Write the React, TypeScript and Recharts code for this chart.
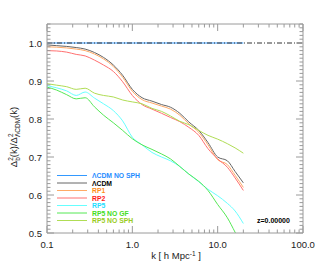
import { LineChart, Line, XAxis, YAxis, ReferenceLine } from "recharts";

// ── Data ──────────────────────────────────────────────────────────────

const K = [0.1, 0.13, 0.17, 0.22, 0.28, 0.36, 0.46, 0.6, 0.77, 1.0, 1.3, 1.7, 2.2, 2.8, 3.6, 4.6, 6.0, 7.7, 10, 13, 16, 20];

const LCDM_NOSPH = [1, 1, 1, 1, 1, 1, 1, 1, 1, 1, 1, 1, 1, 1, 1, 1, 1, 1, 1, 1, 1, 1];
const LCDM = [0.995, 0.993, 0.991, 0.988, 0.984, 0.975, 0.962, 0.942, 0.915, 0.878, 0.856, 0.847, 0.838, 0.831, 0.815, 0.792, 0.77, 0.738, 0.7, 0.69, 0.662, 0.632];
const RP1 = [0.99, 0.989, 0.987, 0.984, 0.98, 0.971, 0.958, 0.938, 0.91, 0.873, 0.851, 0.842, 0.834, 0.826, 0.81, 0.787, 0.765, 0.732, 0.693, 0.68, 0.652, 0.62];
const RP2 = [0.98, 0.979, 0.976, 0.97, 0.966, 0.955, 0.942, 0.925, 0.898, 0.862, 0.838, 0.826, 0.815, 0.804, 0.793, 0.778, 0.757, 0.722, 0.695, 0.673, 0.645, 0.612];
const RP5 = [0.888, 0.882, 0.874, 0.862, 0.871, 0.855, 0.84, 0.822, 0.795, 0.752, 0.732, 0.712, 0.7, 0.69, 0.675, 0.655, 0.635, 0.615, 0.598, 0.578, 0.558, 0.525];
const RP5_NOGF = [0.884, 0.876, 0.864, 0.853, 0.856, 0.832, 0.81, 0.79, 0.77, 0.748, 0.732, 0.72, 0.708, 0.695, 0.675, 0.655, 0.636, 0.612, 0.575, 0.54, 0.502, 0.46];
const RP5_NOSPH = [0.893, 0.889, 0.885, 0.878, 0.881, 0.868, 0.862, 0.858, 0.85, 0.845, 0.84, 0.828, 0.82, 0.808, 0.794, 0.785, 0.77, 0.757, 0.747, 0.735, 0.724, 0.71];

const SERIES = [
  { key: "lcdmNoSph", name: "ΛCDM NO SPH", values: LCDM_NOSPH, line: "#3399ff", text: "#1f8cff" },
  { key: "lcdm", name: "ΛCDM", values: LCDM, line: "#666666", text: "#000000" },
  { key: "rp1", name: "RP1", values: RP1, line: "#ffaa66", text: "#ff8c1a" },
  { key: "rp2", name: "RP2", values: RP2, line: "#ff7070", text: "#ff1a1a" },
  { key: "rp5", name: "RP5", values: RP5, line: "#66ffff", text: "#22ddff" },
  { key: "rp5NoGf", name: "RP5 NO GF", values: RP5_NOGF, line: "#55e855", text: "#44dd22" },
  { key: "rp5NoSph", name: "RP5 NO SPH", values: RP5_NOSPH, line: "#b0dd55", text: "#99cc22" },
];

const X_MAJOR = [0.1, 1, 10, 100];
const X_LABELS = ["0.1", "1.0", "10.0", "100.0"];
const Y_MAJOR = [0.5, 0.6, 0.7, 0.8, 0.9, 1.0];

// minor ticks: 2..9 per decade, every 0.01 in y
const X_TICKS = [0.1, 1, 10].flatMap((d) => [1, 2, 3, 4, 5, 6, 7, 8, 9].map((m) => +(d * m).toPrecision(3))).concat([100]);
const Y_TICKS = Array.from({ length: 56 }, (_, i) => (50 + i) / 100);

const data = K.map((k, i) => {
  const row: any = { k };
  SERIES.forEach((s) => { row[s.key] = s.values[i]; });
  return row;
});

const AXIS = "#9a9a9a";
const FONT = "'Liberation Sans', Arial, sans-serif";

// ── Ticks (IDL style, pointing inward) ────────────────────────────────

function XTick(props: any) {
  const { x, y, payload, top } = props;
  const v = payload.value;
  const idx = X_MAJOR.findIndex((m) => Math.abs(m - v) < 1e-9);
  const len = idx >= 0 ? 7 : 3.5;
  return (
    <g>
      <line x1={x} x2={x} y1={y} y2={top ? y + len : y - len} stroke={AXIS} strokeWidth={1} />
      {!top && idx >= 0 && (
        <text x={x} y={y + 15} textAnchor="middle" fontSize={9.5} fontFamily={FONT} fill="#222">
          {X_LABELS[idx]}
        </text>
      )}
    </g>
  );
}

function YTick(props: any) {
  const { x, y, payload, right } = props;
  const v = payload.value;
  const major = Y_MAJOR.some((m) => Math.abs(m - v) < 1e-9);
  const len = major ? 7 : 3.5;
  return (
    <g>
      <line x1={x} x2={right ? x - len : x + len} y1={y} y2={y} stroke={AXIS} strokeWidth={1} />
      {!right && major && (
        <text x={x - 5} y={y + 3.5} textAnchor="end" fontSize={9.5} fontFamily={FONT} fill="#222">
          {v.toFixed(1)}
        </text>
      )}
    </g>
  );
}

// ── Main ──────────────────────────────────────────────────────────────

export default function App() {
  return (
    <div style={{ position: "relative", width: 319, height: 266 }}>
      <style>{`body{margin:0}`}</style>
      <LineChart width={319} height={266} data={data} margin={{ top: 23, right: 15, bottom: 32, left: 46 }}>
        <XAxis
          dataKey="k"
          type="number"
          scale="log"
          domain={[0.1, 100]}
          allowDataOverflow
          ticks={X_TICKS}
          interval={0}
          height={1}
          tickSize={0}
          tickMargin={0}
          tickLine={false}
          axisLine={{ stroke: AXIS }}
          tick={(p: any) => <XTick {...p} />}
        />
        <XAxis
          xAxisId="top"
          orientation="top"
          dataKey="k"
          type="number"
          scale="log"
          domain={[0.1, 100]}
          allowDataOverflow
          ticks={X_TICKS}
          interval={0}
          height={1}
          tickSize={0}
          tickMargin={0}
          tickLine={false}
          axisLine={{ stroke: AXIS }}
          tick={(p: any) => <XTick {...p} top />}
        />
        <YAxis
          type="number"
          domain={[0.5, 1.05]}
          allowDataOverflow
          ticks={Y_TICKS}
          interval={0}
          width={1}
          tickSize={0}
          tickMargin={0}
          tickLine={false}
          axisLine={{ stroke: AXIS }}
          tick={(p: any) => <YTick {...p} />}
        />
        <YAxis
          yAxisId="right"
          orientation="right"
          type="number"
          domain={[0.5, 1.05]}
          allowDataOverflow
          ticks={Y_TICKS}
          interval={0}
          width={1}
          tickSize={0}
          tickMargin={0}
          tickLine={false}
          axisLine={{ stroke: AXIS }}
          tick={(p: any) => <YTick {...p} right />}
        />
        {SERIES.map((s) => (
          <Line
            key={s.key}
            dataKey={s.key}
            type="monotone"
            stroke={s.line}
            strokeWidth={1}
            dot={false}
            isAnimationActive={false}
          />
        ))}
        <ReferenceLine y={1} stroke="#333333" strokeWidth={1} strokeDasharray="5 2 1 2" />
      </LineChart>

      {/* titles, legend and redshift label */}
      <svg
        width={319}
        height={266}
        style={{ position: "absolute", left: 0, top: 0, pointerEvents: "none" }}
        fontFamily={FONT}
      >
        <text x={176} y={259} textAnchor="middle" fontSize={9.5} fill="#222">
          k [ h Mpc<tspan dy={-3.5} fontSize={6.5}>-1</tspan><tspan dy={3.5}> ]</tspan>
        </text>
        <text transform="translate(17,137) rotate(-90)" textAnchor="middle" fontSize={9.5} fill="#222">
          Δ<tspan dy={-4} fontSize={6.5}>2</tspan>
          <tspan dx={-3.6} dy={7} fontSize={6.5}>b</tspan>
          <tspan dy={-3}>(k)/Δ</tspan>
          <tspan dy={-4} fontSize={6.5}>2</tspan>
          <tspan dx={-3.6} dy={7} fontSize={6.5}>ΛCDM</tspan>
          <tspan dy={-3}>(k)</tspan>
        </text>
        <text x={257} y={222.5} fontSize={7} fontWeight="bold" fill="#000">z=0.00000</text>
        {SERIES.map((s, i) => {
          const y = 175.5 + i * 7.5;
          return (
            <g key={s.key}>
              <line x1={57} x2={87} y1={y} y2={y} stroke={s.line} strokeWidth={1} />
              <text x={92} y={y + 2.5} fontSize={6.8} fontWeight="bold" fill={s.text}>
                {s.name}
              </text>
            </g>
          );
        })}
      </svg>
    </div>
  );
}
